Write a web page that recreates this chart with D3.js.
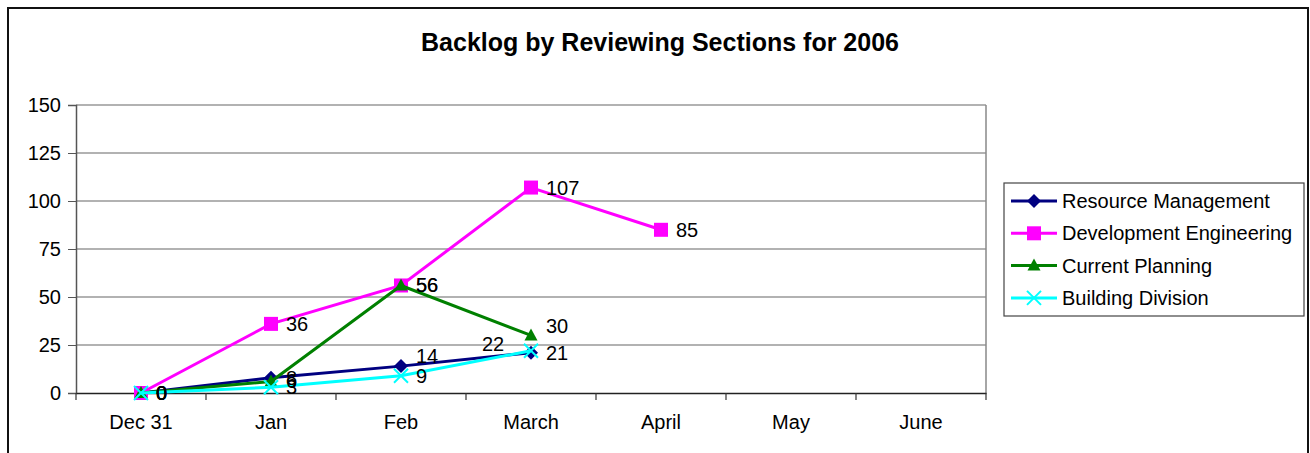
<!DOCTYPE html>
<html>
<head>
<meta charset="utf-8">
<script src="https://cdn.jsdelivr.net/npm/d3@7"></script>
<style>
  body { margin: 0; background: #fff; }
  svg { font-family: Arial, "Liberation Sans", sans-serif; }
</style>
</head>
<body>
<div id="chart"></div>
<script>
// chart data
var categories = ["Dec 31", "Jan", "Feb", "March", "April", "May", "June"];
var seriesNames = ["Resource Management", "Development Engineering", "Current Planning", "Building Division"];
var resourceMgmt = [0, 8, 14, 21];
var devEngineering = [0, 36, 56, 107, 85];
var currentPlanning = [0, 6, 56, 30];
var buildingDiv = [0, 3, 9, 22];
var yTicks = [0, 25, 50, 75, 100, 125, 150];

var colors = ["#000080", "#ff00ff", "#008000", "#00ffff"];
var shapes = ["diamond", "square", "triangle", "x"];
var allValues = [resourceMgmt, devEngineering, currentPlanning, buildingDiv];

var width = 1310, height = 453;
var plot = { left: 76, right: 986, top: 105, bottom: 393 };
var fontStack = "Arial, 'Liberation Sans', sans-serif";

var svg = d3.select("#chart").append("svg")
  .attr("width", width)
  .attr("height", height);

// outer frame
svg.append("rect")
  .attr("x", 8).attr("y", 8)
  .attr("width", 1300).attr("height", 460)
  .attr("fill", "#fff")
  .attr("stroke", "#111")
  .attr("stroke-width", 2);

svg.append("text")
  .attr("x", 660).attr("y", 51)
  .attr("text-anchor", "middle")
  .style("font-size", "25px")
  .style("font-weight", "bold")
  .text("Backlog by Reviewing Sections for 2006");

var x = d3.scaleBand()
  .domain(categories)
  .range([plot.left, plot.right]);

var y = d3.scaleLinear()
  .domain([0, 150])
  .range([plot.bottom, plot.top]);

// gridlines
svg.append("g")
  .selectAll("line")
  .data(yTicks.slice(1))
  .enter()
  .append("line")
  .attr("x1", plot.left).attr("x2", plot.right)
  .attr("y1", function(d) { return y(d); })
  .attr("y2", function(d) { return y(d); })
  .attr("stroke", "#666")
  .attr("stroke-width", 1.2);

// plot area right border
svg.append("line")
  .attr("x1", plot.right).attr("x2", plot.right)
  .attr("y1", plot.top).attr("y2", plot.bottom)
  .attr("stroke", "#888")
  .attr("stroke-width", 1.5);

var yAxis = d3.axisLeft(y).tickValues(yTicks).tickSize(8).tickPadding(7);
var yAxisGroup = svg.append("g")
  .attr("transform", "translate(" + plot.left + ",0)")
  .call(yAxis);
yAxisGroup.select(".domain").attr("stroke", "#555").attr("stroke-width", 1.5);
yAxisGroup.selectAll(".tick line").attr("stroke", "#555");
yAxisGroup.selectAll("text")
  .style("font-size", "20px")
  .style("font-family", fontStack)
  .attr("fill", "#000");

var xAxis = d3.axisBottom(x).tickSize(0).tickPadding(22);
var xAxisGroup = svg.append("g")
  .attr("transform", "translate(0," + plot.bottom + ")")
  .call(xAxis);
xAxisGroup.select(".domain").attr("stroke", "#222").attr("stroke-width", 1.5);
xAxisGroup.selectAll("text")
  .style("font-size", "20px")
  .style("font-family", fontStack)
  .attr("fill", "#000");

// tick marks between categories
svg.append("g")
  .selectAll("line")
  .data(d3.range(categories.length + 1))
  .enter()
  .append("line")
  .attr("x1", function(i) { return plot.left + i * x.step(); })
  .attr("x2", function(i) { return plot.left + i * x.step(); })
  .attr("y1", plot.bottom)
  .attr("y2", plot.bottom + 7)
  .attr("stroke", "#333")
  .attr("stroke-width", 1.2);

function cx(i) { return x(categories[i]) + x.bandwidth() / 2; }

function drawMarker(g, shape, color, px, py) {
  var t = "translate(" + px + "," + py + ")";
  if (shape === "diamond") {
    g.append("path")
      .attr("d", "M0,-7L7,0L0,7L-7,0Z")
      .attr("transform", t)
      .attr("fill", color);
  } else if (shape === "square") {
    g.append("rect")
      .attr("x", px - 7).attr("y", py - 7)
      .attr("width", 14).attr("height", 14)
      .attr("fill", color);
  } else if (shape === "triangle") {
    g.append("path")
      .attr("d", "M0,-7L6.5,5L-6.5,5Z")
      .attr("transform", t)
      .attr("fill", color);
  } else {
    g.append("path")
      .attr("d", "M-7,-7L7,7M-7,7L7,-7")
      .attr("transform", t)
      .attr("stroke", color)
      .attr("stroke-width", 2)
      .attr("fill", "none");
  }
}

var line = d3.line()
  .x(function(d, i) { return cx(i); })
  .y(function(d) { return y(d); });

allValues.forEach(function(vals, s) {
  var g = svg.append("g");
  g.append("path")
    .datum(vals)
    .attr("d", line)
    .attr("fill", "none")
    .attr("stroke", colors[s])
    .attr("stroke-width", 3);
  vals.forEach(function(v, i) {
    drawMarker(g, shapes[s], colors[s], cx(i), y(v));
  });
});

// data label nudges (series index + point index)
var nudge = {
  "0-2": [0, -10],
  "2-3": [0, -9],
  "3-3": [-64, -7]
};

var labels = svg.append("g");
allValues.forEach(function(vals, s) {
  vals.forEach(function(v, i) {
    var n = nudge[s + "-" + i] || [0, 0];
    labels.append("text")
      .attr("x", cx(i) + 15 + n[0])
      .attr("y", y(v) + n[1])
      .attr("dy", "0.35em")
      .style("font-size", "20px")
      .text(v);
  });
});

// legend
var legend = svg.append("g");
legend.append("rect")
  .attr("x", 1004).attr("y", 183)
  .attr("width", 300).attr("height", 133)
  .attr("fill", "#fff")
  .attr("stroke", "#444")
  .attr("stroke-width", 1.2);

seriesNames.forEach(function(name, s) {
  var ly = 201 + s * 32.3;
  legend.append("line")
    .attr("x1", 1011).attr("x2", 1057)
    .attr("y1", ly).attr("y2", ly)
    .attr("stroke", colors[s])
    .attr("stroke-width", 3);
  drawMarker(legend, shapes[s], colors[s], 1034, ly);
  legend.append("text")
    .attr("x", 1062).attr("y", ly)
    .attr("dy", "0.35em")
    .style("font-size", "20px")
    .text(name);
});
</script>
</body>
</html>
